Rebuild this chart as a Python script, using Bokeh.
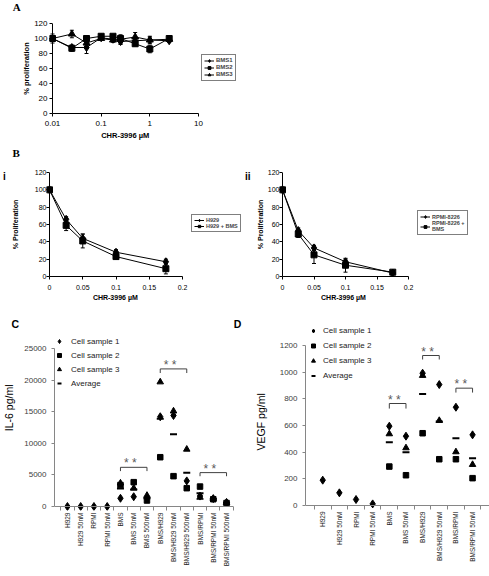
import math
from bokeh.plotting import figure
from bokeh.models import (ColumnDataSource, Whisker, TeeHead, Legend, LegendItem, Div, Span,
                          FixedTicker, NumeralTickFormatter)
from bokeh.layouts import column, row
from bokeh.core.properties import value
from bokeh.embed import file_html
from bokeh.resources import INLINE

nan = float("nan")

# ---------------- data ----------------
# Panel A
conc_a = [0.01, 0.025, 0.05, 0.1, 0.175, 0.25, 0.5, 1, 2.5]
bms1 = [100, 88, 88, 101, 99, 96, 97, 98, 97]
bms1_err = [3, 3, 8, 2, 3, 4, 3, 4, 2]
bms2 = [100, 87, 100, 103, 103, 100, 93, 86, 100]
bms2_err = [3, 4, 3, 2, 2, 3, 3, 5, 2]
bms3 = [100, 106, 94, 100, 98, 99, 102, 98, 99]
bms3_err = [6, 5, 4, 2, 3, 6, 6, 5, 3]
ticks_a_x = [0.01, 0.1, 1, 10]
ticks_pct = [0, 20, 40, 60, 80, 100, 120]

# Panel B
conc_b = [0, 0.025, 0.05, 0.1, 0.175]
h929 = [100, 66, 44, 28, 17]
h929_err = [1, 3, 5, 3, 3]
h929_bms = [100, 59, 41, 23, 9]
h929_bms_err = [1, 6, 8, 3, 6]
rpmi = [100, 53, 33, 17, 4]
rpmi_err = [2, 3, 3, 3, 1]
rpmi_bms = [100, 49, 25, 13, 5]
rpmi_bms_err = [2, 4, 10, 8, 2]
ticks_b_x = [0, 0.05, 0.1, 0.15, 0.2]

# Panel C (IL-6 pg/ml)
cats_c = ["H929", "H929 50nM", "RPMI", "RPMI 50nM", "BMS", "BMS 50nM", "BMS 500nM",
          "BMS/H929", "BMS/H929 50nM", "BMS/H929 500nM", "BMS/RPMI", "BMS/RPMI 50nM",
          "BMS/RPMI 500nM"]
il6_s1 = [0, 0, 0, 0, 1300, 1550, 1350, 14200, 14400, 4050, 1650, 1250, 650]
il6_s2 = [nan, nan, nan, nan, 3400, 3850, 950, 7800, 4800, 2900, 3150, 1150, 550]
il6_s3 = [nan, nan, nan, nan, 3700, 2900, 1750, 19700, 15100, 9050, 1450, 1200, 600]
il6_avg = [nan, nan, nan, nan, 2850, 2700, 1300, 13900, 11430, 5350, 2080, 1200, 600]
il6_brackets = [(4, 6), (7, 9), (10, 12)]
il6_bracket_top = [6200, 21770, 5360]
il6_bracket_drop = [600, 650, 570]
ticks_c_y = [0, 5000, 10000, 15000, 20000, 25000]

# Panel D (VEGF pg/ml)
cats_d = ["H929", "H929 50nM", "RPMI", "RPMI 50nM", "BMS", "BMS 50nM", "BMS/H929",
          "BMS/H929 50nM", "BMS/RPMI", "BMS/RPMI 50nM"]
vegf_s1 = [190, 95, 45, 12, 595, 520, 992, 907, 737, 530]
vegf_s2 = [nan, nan, nan, nan, 292, 227, 542, 347, 347, 205]
vegf_s3 = [nan, nan, nan, nan, 537, 432, 975, 637, 402, 307]
vegf_avg = [nan, nan, nan, nan, 475, 400, 837, 630, 505, 355]
vegf_brackets = [(4, 5), (6, 7), (8, 9)]
vegf_bracket_top = [765, 1125, 880]
vegf_bracket_drop = [38, 30, 33]
ticks_d_y = [0, 200, 400, 600, 800, 1000, 1200]

series_names = ["Cell sample 1", "Cell sample 2", "Cell sample 3", "Average"]

# ---------------- layout helpers ----------------
FONT = "Liberation Sans"
SERIF = "Liberation Serif"
NB = "\u00a0"


def lin_map(v0, p0, v1, p1):
    k = (v1 - v0) / (p1 - p0)
    return lambda q: v0 + (q - p0) * k


def make_fig(box, fr, xmap, ymap, log_x=False):
    X0, Y0, X1, Y1 = box
    F0, F1, G0, G1 = fr
    if log_x:
        xr = (10 ** xmap(F0), 10 ** xmap(F1))
    else:
        xr = (xmap(F0), xmap(F1))
    yr = (ymap(G1), ymap(G0))
    kw = dict(x_axis_type="log") if log_x else {}
    p = figure(width=X1 - X0, height=Y1 - Y0, min_border_left=F0 - X0, min_border_right=X1 - F1,
               min_border_top=G0 - Y0, min_border_bottom=Y1 - G1, toolbar_location=None,
               output_backend="svg", background_fill_color="white", border_fill_color="white",
               x_range=xr, y_range=yr, **kw)
    p.title.visible = False
    p.outline_line_color = None
    p.grid.visible = False
    return p


def letter_div(width, height, letters):
    spans = []
    for txt, left, top, font, size in letters:
        spans.append(
            f'<span style="position:absolute;left:{left:.1f}px;top:{top:.1f}px;'
            f"font-family:'{font}';font-size:{size}px;font-weight:bold;line-height:{size}px;"
            f'color:#000;white-space:nowrap;">{txt}</span>')
    html = (f'<div style="position:relative;width:{width}px;height:{height}px;'
            f'overflow:visible;">' + "".join(spans) + "</div>")
    return Div(text=html, width=width, height=height, margin=0)


def style_axes(p, tick_size, title_size, line_color="black", label_color="black",
               title_style="bold"):
    for ax in p.axis:
        ax.axis_line_color = line_color
        ax.major_tick_line_color = line_color
        ax.major_tick_out = 3
        ax.major_tick_in = 0
        ax.minor_tick_line_color = None
        ax.major_label_text_font = FONT
        ax.major_label_text_font_size = tick_size
        ax.major_label_text_color = label_color
        ax.axis_label_text_font = FONT
        ax.axis_label_text_font_size = title_size
        ax.axis_label_text_font_style = title_style
        ax.axis_label_text_color = "black"


def curve(p, x, y, err, marker, size, name):
    src = ColumnDataSource(dict(x=x, y=y, lo=[a - b for a, b in zip(y, err)],
                                hi=[a + b for a, b in zip(y, err)]))
    r_line = p.line("x", "y", source=src, line_color="black", line_width=1)
    p.add_layout(Whisker(base="x", upper="hi", lower="lo", source=src, line_color="black",
                         line_width=1,
                         upper_head=TeeHead(size=4, line_color="black", line_width=1),
                         lower_head=TeeHead(size=4, line_color="black", line_width=1)))
    r_pts = p.scatter("x", "y", source=src, marker=marker, size=size, color="black")
    return LegendItem(label=name, renderers=[r_line, r_pts])


def boxed_legend(p, fr, items, left, top, height, item_h, font_size):
    leg = Legend(items=items, location=(left - fr[0], fr[3] - top - height), margin=0,
                 padding=2, spacing=0, glyph_width=10, glyph_height=item_h,
                 label_height=item_h, label_standoff=2, label_width=10,
                 label_text_font=FONT, label_text_font_size=font_size,
                 label_text_font_style="bold", border_line_color="black", border_line_width=1,
                 background_fill_color="white", background_fill_alpha=1.0)
    p.add_layout(leg)


def curve_axes(p, ticks_x, tick_size, title_size, xlab, ylab, y_title_standoff,
               y_label_standoff, x_label_standoff, x_title_standoff):
    style_axes(p, tick_size, title_size)
    p.xaxis.ticker = FixedTicker(ticks=ticks_x)
    p.xaxis.formatter = NumeralTickFormatter(format="0.[00]")
    p.xaxis.bounds = (ticks_x[0], ticks_x[-1])
    p.yaxis.ticker = FixedTicker(ticks=ticks_pct)
    p.yaxis.bounds = (0, 120)
    # the y axis sits at the first x value, 3px inside the frame; ticks point outwards
    p.yaxis.axis_line_color = None
    p.yaxis.major_tick_in = 3
    p.yaxis.major_tick_out = 0
    p.add_layout(Span(location=ticks_x[0], dimension="height", line_color="black",
                      line_width=1))
    p.xaxis.axis_label = xlab
    p.yaxis.axis_label = ylab
    p.xaxis.major_label_standoff = x_label_standoff
    p.yaxis.major_label_standoff = y_label_standoff
    p.xaxis.axis_label_standoff = x_title_standoff
    p.yaxis.axis_label_standoff = y_title_standoff


XLAB = "CHR-3996 \u00b5M"

# ---------------- Panel A ----------------
fr_a = (49, 240, 23, 113)
pa = make_fig((0, 14, 489, 148), fr_a, lin_map(-2, 52, 1, 198), lin_map(0, 113, 120, 23),
              log_x=True)
curve_axes(pa, ticks_a_x, "8px", "7.5px", XLAB + NB * 19, "% proliferation", 0, 2, 4, 2)
items_a = [curve(pa, conc_a, bms1, bms1_err, "diamond", 8, "BMS1"),
           curve(pa, conc_a, bms2, bms2_err, "square", 6, "BMS2"),
           curve(pa, conc_a, bms3, bms3_err, "triangle", 7, "BMS3")]
boxed_legend(pa, fr_a, items_a, 201, 55.5, 25, 7, "6px")

# ---------------- Panel B i ----------------
fr_b1 = (46, 242, 171, 276)
pb1 = make_fig((7, 160, 245, 310), fr_b1, lin_map(0, 49, 0.2, 182), lin_map(0, 276, 120, 171))
curve_axes(pb1, ticks_b_x, "7px", "7px", XLAB + NB * 30, "% Proliferation", 13, 0, 5, 1)
items_b1 = [curve(pb1, conc_b, h929, h929_err, "diamond", 8, "H929"),
            curve(pb1, conc_b, h929_bms, h929_bms_err, "square", 6, "H929 + BMS")]
boxed_legend(pb1, fr_b1, items_b1, 191, 215.5, 16, 6, "5.5px")

# ---------------- Panel B ii ----------------
fr_b2 = (279, 475, 172, 278)
pb2 = make_fig((252, 160, 489, 310), fr_b2, lin_map(0, 282, 0.2, 408), lin_map(0, 278, 120, 172))
curve_axes(pb2, ticks_b_x, "7px", "7px", XLAB + NB * 35, "% Proliferation", 1, 0, 5, 1)
items_b2 = [curve(pb2, conc_b, rpmi, rpmi_err, "diamond", 8, "RPMI-8226"),
            curve(pb2, conc_b, rpmi_bms, rpmi_bms_err, "square", 6, "RPMI-8226 +\nBMS")]
boxed_legend(pb2, fr_b2, items_b2, 417, 214, 23, 7, "5.5px")


# ---------------- Panels C / D ----------------
def dot_panel(p, fr, cats, s1, s2, s3, avg, brackets, b_top, b_drop, yticks, ytitle,
              leg_left, leg_top, item_h, leg_standoff, ytitle_standoff):
    xs = list(range(len(cats)))
    style_axes(p, "8px", "10.5px", line_color="#868686", label_color="#404040",
               title_style="normal")
    p.yaxis.ticker = FixedTicker(ticks=yticks)
    p.yaxis.bounds = (yticks[0], yticks[-1])
    p.yaxis.major_label_standoff = 5
    p.yaxis.axis_label = ytitle
    p.yaxis.axis_label_standoff = ytitle_standoff
    # category axis: line drawn at y = 0 (4px inside the frame), boundary ticks hang below it
    p.xaxis.axis_line_color = None
    p.xaxis.ticker = FixedTicker(ticks=xs, minor_ticks=[i - 0.5 for i in range(len(cats) + 1)])
    p.xaxis.major_tick_out = 0
    p.xaxis.major_tick_in = 0
    p.xaxis.minor_tick_line_color = "#868686"
    p.xaxis.minor_tick_out = 0
    p.xaxis.minor_tick_in = 4
    p.xaxis.major_label_overrides = {i: c for i, c in enumerate(cats)}
    p.xaxis.major_label_orientation = math.pi / 2
    p.xaxis.major_label_standoff = 2
    p.xaxis.major_label_text_font_size = "6.5px"
    p.xaxis.major_label_text_color = "#222222"
    p.add_layout(Span(location=0, dimension="width", line_color="#868686", line_width=1))

    r1 = p.scatter(xs, s1, marker="diamond", size=8, color="black")
    r2 = p.scatter(xs, s2, marker="square", size=5.5, color="black")
    r3 = p.scatter(xs, s3, marker="triangle", size=6.5, color="black")
    r4 = p.scatter(xs, avg, marker="dash", size=7, line_color="black", line_width=2)

    bx, by, mx, my = [], [], [], []
    for (a, b), top, drop in zip(brackets, b_top, b_drop):
        bx.append([a, a, b, b])
        by.append([top - drop, top, top, top - drop])
        mx.append((a + b) / 2.0)
        my.append(top)
    p.multi_line(bx, by, line_color="#404040", line_width=1)
    p.text(mx, my, text=["*   *"] * len(mx), text_font=value(FONT), text_font_size="12px",
           text_color="#595959", text_align="center", text_baseline="middle", y_offset=-4)

    items = [LegendItem(label=n, renderers=[r]) for n, r in zip(series_names, [r1, r2, r3, r4])]
    lx, ly = leg_left - fr[0], fr[3] - leg_top
    p.add_layout(Legend(items=items, location=(lx, ly - 4 * item_h), margin=0, padding=0,
                        spacing=0, glyph_width=10, glyph_height=item_h, label_height=item_h,
                        label_standoff=leg_standoff, label_text_font=FONT,
                        label_text_font_size="8px", label_text_color="#222222",
                        border_line_color=None, background_fill_alpha=0))


fr_c = (53, 233, 331, 510)
pc = make_fig((0, 331, 251, 576), fr_c, lin_map(0, 66, 12, 226), lin_map(0, 506, 25000, 348))
dot_panel(pc, fr_c, cats_c, il6_s1, il6_s2, il6_s3, il6_avg, il6_brackets,
          il6_bracket_top, il6_bracket_drop, ticks_c_y, NB * 9 + "IL-6 pg/ml", 53, 334, 14, 7, 6)

fr_d = (300, 489, 322, 509)
pd_ = make_fig((251, 310, 489, 576), fr_d, lin_map(0, 317.7, 9, 471.6),
               lin_map(0, 505, 1200, 345))
dot_panel(pd_, fr_d, cats_d, vegf_s1, vegf_s2, vegf_s3, vegf_avg, vegf_brackets,
          vegf_bracket_top, vegf_bracket_drop, ticks_d_y, "VEGF pg/ml" + NB * 4, 303, 322.6, 15,
          5, 10)

# ---------------- panel letters ----------------
div_a = letter_div(489, 14, [("A", 12.7, 3.5 - 0.1755 * 11, SERIF, 11)])
div_b = letter_div(489, 12, [("B", 12.5, 150 - 148 - 0.1755 * 11, SERIF, 11)])
div_i = letter_div(7, 150, [("i", 3.0, 173 - 160 - 0.1305 * 10, FONT, 10)])
div_ii = letter_div(7, 150, [("ii", 0.0, 173.3 - 160 - 0.1305 * 10, FONT, 10)])
div_cd = letter_div(251, 21, [("C", 11.5, 320 - 310 - 0.1305 * 10.5, FONT, 10.5),
                              ("D", 233.8, 320 - 310 - 0.1305 * 10.5, FONT, 10.5)])

layout = column(
    div_a, pa, div_b,
    row(div_i, pb1, div_ii, pb2, spacing=0),
    row(column(div_cd, pc, spacing=0), pd_, spacing=0),
    spacing=0)

with open("out.html", "w") as f:
    f.write(file_html(layout, INLINE))
